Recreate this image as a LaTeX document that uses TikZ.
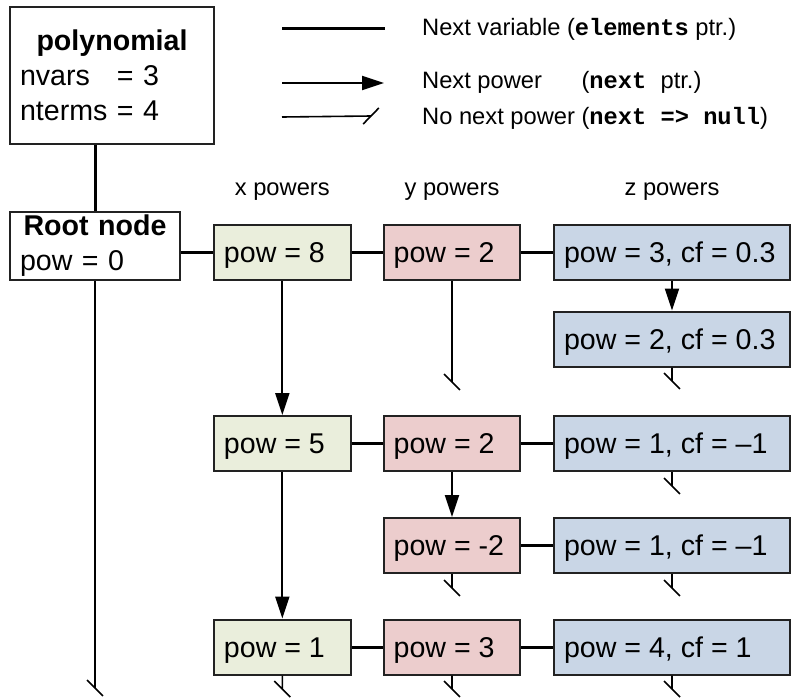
\documentclass[tikz,border=0pt]{standalone}
\usepackage{fontspec}
\setmainfont{Liberation Sans}
\setmonofont{Liberation Mono}
\usetikzlibrary{arrows.meta,calc}

\definecolor{xfill}{HTML}{EAEEDC}
\definecolor{yfill}{HTML}{ECCDCD}
\definecolor{zfill}{HTML}{C9D6E6}
\definecolor{edge}{HTML}{222222}

% left-aligned label of fixed width inside a term box
\newcommand\narrowcell[1]{\makebox[116.7pt][l]{#1}}
\newcommand\widecell[1]{\makebox[216pt][l]{#1}}

\tikzset{
  % a stem that ends in a short slash: the "null" next pointer
  nullto/.style={to path={-- (\tikztotarget)
      ($(\tikztotarget)!11.3pt!45:(\tikztostart)$) --
      ($(\tikztotarget)!-11.3pt!45:(\tikztostart)$)}},
}

\begin{document}
\begin{tikzpicture}[x=1pt,y=-1pt,
  every node/.style={font=\fontsize{28.6}{35}\selectfont},
  small/.style={font=\fontsize{23.7}{28}\selectfont},
  plainbox/.style={draw=edge,line width=2pt,fill=white,inner xsep=10pt,align=left},
  termbox/.style={draw=edge,line width=2pt,minimum height=55pt,inner xsep=10pt,
    inner ysep=0pt,text height=27pt,text depth=7pt},
  xbox/.style={termbox,fill=xfill},
  ybox/.style={termbox,fill=yfill},
  zbox/.style={termbox,fill=zfill},
  nextvar/.style={line width=3pt},
  nextpow/.style={line width=2pt,-{Triangle[length=22pt,width=14pt]}},
  nullpow/.style={line width=1.6pt,nullto},
]
\useasboundingbox (0,0) rectangle (792,699);

% ---------- header boxes ----------
\node[plainbox,minimum width=204pt,minimum height=137pt,text width=184pt] (poly) at (112,75.5)
  {\makebox[184pt]{\bfseries polynomial}\\\mbox{\rlap{nvars}\phantom{nterms} = 3}\\\mbox{nterms = 4}};
\node[plainbox,minimum width=170pt,minimum height=68pt,text width=150pt,inner ysep=0pt] (root) at (95,246)
  {\makebox[150pt]{\bfseries Root node}\\\mbox{pow = 0}};

% ---------- legend ----------
\coordinate (la1) at (282,28);  \coordinate (lb1) at (385,28);
\coordinate (la2) at (282,83);  \coordinate (lb2) at (384,83);
\coordinate (la3) at (282,117); \coordinate (lb3) at (371,116);
\draw[nextvar] (la1) -- (lb1);
\draw[nextpow] (la2) -- (lb2);
\draw[nullpow] (la3) to (lb3);
\node[small,anchor=west,inner sep=0pt] (lt1) at (422,29)
  {Next variable (\texttt{\bfseries elements} ptr.)};
\node[small,anchor=west,inner sep=0pt] (lt2) at (422,82)
  {\rlap{Next power}\phantom{No next power }(\texttt{\bfseries next }ptr.)};
\node[small,anchor=west,inner sep=0pt] (lt3) at (422,118)
  {No next power (\texttt{\bfseries next => null})};

% ---------- column headings ----------
\node[small] (hx) at (282.3,192) {x powers};
\node[small] (hy) at (452,192) {y powers};
\node[small] (hz) at (672,192) {z powers};

% ---------- term nodes ----------
\node[xbox] (x1) at (282.3,252.5) {\narrowcell{pow = 8}};
\node[ybox] (y1) at (452,252.5) {\narrowcell{pow = 2}};
\node[zbox] (z1) at (672,252.5) {\widecell{pow = 3, cf = 0.3}};
\node[zbox] (z1b) at (672,339) {\widecell{pow = 2, cf = 0.3}};

\node[xbox] (x2) at (282.3,443.5) {\narrowcell{pow = 5}};
\node[ybox] (y2) at (452,443.5) {\narrowcell{pow = 2}};
\node[zbox] (z2) at (672,443.5) {\widecell{pow = 1, cf = –1}};

\node[ybox] (y3) at (452,545.5) {\narrowcell{pow = -2}};
\node[zbox] (z3) at (672,545.5) {\widecell{pow = 1, cf = –1}};

\node[xbox] (x4) at (282.3,647) {\narrowcell{pow = 1}};
\node[ybox] (y4) at (452,647) {\narrowcell{pow = 3}};
\node[zbox] (z4) at (672,647) {\widecell{pow = 4, cf = 1}};

% ---------- next-variable links ----------
\draw[nextvar] (root.north |- poly.south) -- (root.north);
\draw[nextvar] (x1.west -| root.east) -- (x1.west);
\draw[nextvar] (x1.east) -- (y1.west);
\draw[nextvar] (y1.east) -- (z1.west);
\draw[nextvar] (x2.east) -- (y2.west);
\draw[nextvar] (y2.east) -- (z2.west);
\draw[nextvar] (y3.east) -- (z3.west);
\draw[nextvar] (x4.east) -- (y4.west);
\draw[nextvar] (y4.east) -- (z4.west);

% ---------- next-power links ----------
\draw[nextpow] (x1.south) -- (x2.north);
\draw[nextpow] (x2.south) -- (x4.north);
\draw[nextpow] (z1.south) -- (z1b.north);
\draw[nextpow] (y2.south) -- (y3.north);

% ---------- null next pointers ----------
\coordinate (nroot) at (95,688);
\coordinate (ny1) at (452,382);
\coordinate (nz1b) at (672,381);
\coordinate (nz2) at (672,486);
\coordinate (ny3) at (452,588);
\coordinate (nz3) at (672,588);
\coordinate (nx4) at (282.3,689);
\coordinate (ny4) at (452,689);
\coordinate (nz4) at (672,689);
\draw[nullpow] (root.south) to (nroot);
\draw[nullpow] (y1.south) to (ny1);
\draw[nullpow] (z1b.south) to (nz1b);
\draw[nullpow] (z2.south) to (nz2);
\draw[nullpow] (y3.south) to (ny3);
\draw[nullpow] (z3.south) to (nz3);
\draw[nullpow] (x4.south) to (nx4);
\draw[nullpow] (y4.south) to (ny4);
\draw[nullpow] (z4.south) to (nz4);
\end{tikzpicture}
\end{document}
